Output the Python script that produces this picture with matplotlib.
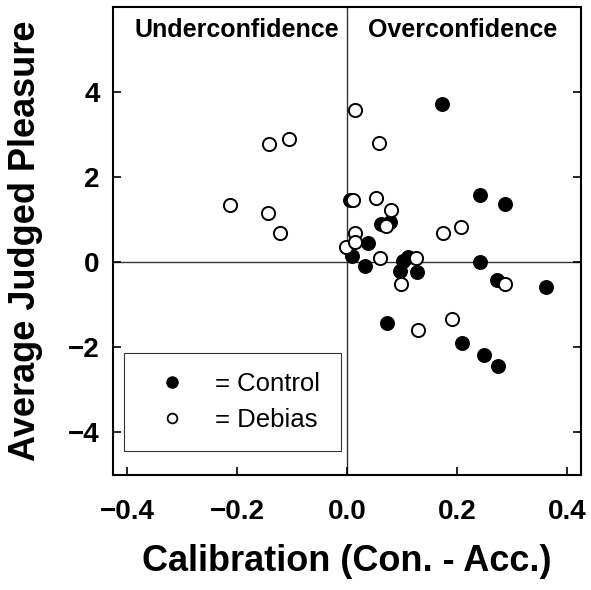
import matplotlib
matplotlib.use("Agg")
import matplotlib.pyplot as plt
from matplotlib.lines import Line2D

plt.rcParams['font.family'] = ['Liberation Sans', 'DejaVu Sans']

# Control group (filled circles)
control_x = [0.173, 0.005, 0.241, 0.287, 0.062, 0.078, 0.038, 0.008, 0.032, 0.102,
             0.111, 0.096, 0.126, 0.241, 0.273, 0.361, 0.072, 0.209, 0.249, 0.274]
control_y = [3.72, 1.47, 1.58, 1.38, 0.89, 0.94, 0.45, 0.14, -0.08, 0.02,
             0.12, -0.20, -0.23, 0.00, -0.42, -0.58, -1.43, -1.90, -2.18, -2.44]

# Debias group (open circles)
debias_x = [-0.142, -0.105, -0.213, -0.144, -0.122, -0.002, 0.015, 0.058, 0.010, 0.052, 0.080,
            0.070, 0.175, 0.206, 0.014, 0.014, 0.059, 0.125, 0.098, 0.287, 0.129, 0.191]
debias_y = [2.78, 2.89, 1.34, 1.17, 0.69, 0.37, 3.59, 2.80, 1.47, 1.51, 1.24,
            0.86, 0.70, 0.82, 0.70, 0.47, 0.11, 0.11, -0.51, -0.51, -1.59, -1.34]

x_ticks = [-0.4, -0.2, 0.0, 0.2, 0.4]
x_labels = ['\u22120.4', '\u22120.2', '0.0', '0.2', '0.4']
y_ticks = [-4, -2, 0, 2, 4]
y_labels = ['\u22124', '\u22122', '0', '2', '4']

fig = plt.figure(figsize=(5.91, 5.90), dpi=100)
ax = fig.add_axes([0.192, 0.195, 0.791, 0.793])

ax.axhline(0, color='#333333', lw=1.0, zorder=1)
ax.axvline(0, color='#333333', lw=1.0, zorder=1)

ax.scatter(control_x, control_y, s=95, c='black', edgecolors='black', linewidths=1.0, zorder=3)
ax.scatter(debias_x, debias_y, s=90, c='white', edgecolors='black', linewidths=1.4, zorder=4)

ax.set_xlim(-0.425, 0.425)
ax.set_ylim(-5, 6)
ax.set_xticks(x_ticks)
ax.set_xticklabels(x_labels)
ax.set_yticks(y_ticks)
ax.set_yticklabels(y_labels)
ax.tick_params(axis='both', direction='in', length=6, width=1.2, labelsize=20)
ax.tick_params(axis='y', right=True, pad=10)
ax.tick_params(axis='x', pad=17)
for lab in ax.get_xticklabels() + ax.get_yticklabels():
    lab.set_fontweight('bold')
for sp in ax.spines.values():
    sp.set_linewidth(1.5)

ax.text(-0.2, 5.45, 'Underconfidence', ha='center', va='center', fontsize=18, fontweight='bold')
ax.text(0.21, 5.45, 'Overconfidence', ha='center', va='center', fontsize=18, fontweight='bold')

ax.set_xlabel('Calibration (Con. - Acc.)', fontsize=26, fontweight='bold', va='center')
ax.xaxis.set_label_coords(0.5, -0.186)
ax.set_ylabel('Average Judged Pleasure', fontsize=26, fontweight='bold', va='center')
ax.yaxis.set_label_coords(-0.189, 0.5)

handles = [
    Line2D([], [], ls='none', marker='o', ms=8, mfc='black', mec='black'),
    Line2D([], [], ls='none', marker='o', ms=7, mfc='white', mec='black', mew=1.3),
]
leg = ax.legend(handles, ['= Control', '= Debias'], loc='lower left',
                bbox_to_anchor=(0.023, 0.051, 0.464, 0.212), mode='expand',
                fontsize=18.5, frameon=True, fancybox=False, edgecolor='black',
                borderpad=0.75, labelspacing=0.45, handlelength=2.25, handletextpad=0.55,
                borderaxespad=0)
leg.get_frame().set_linewidth(0.8)

fig.savefig('out.png', dpi=100)
